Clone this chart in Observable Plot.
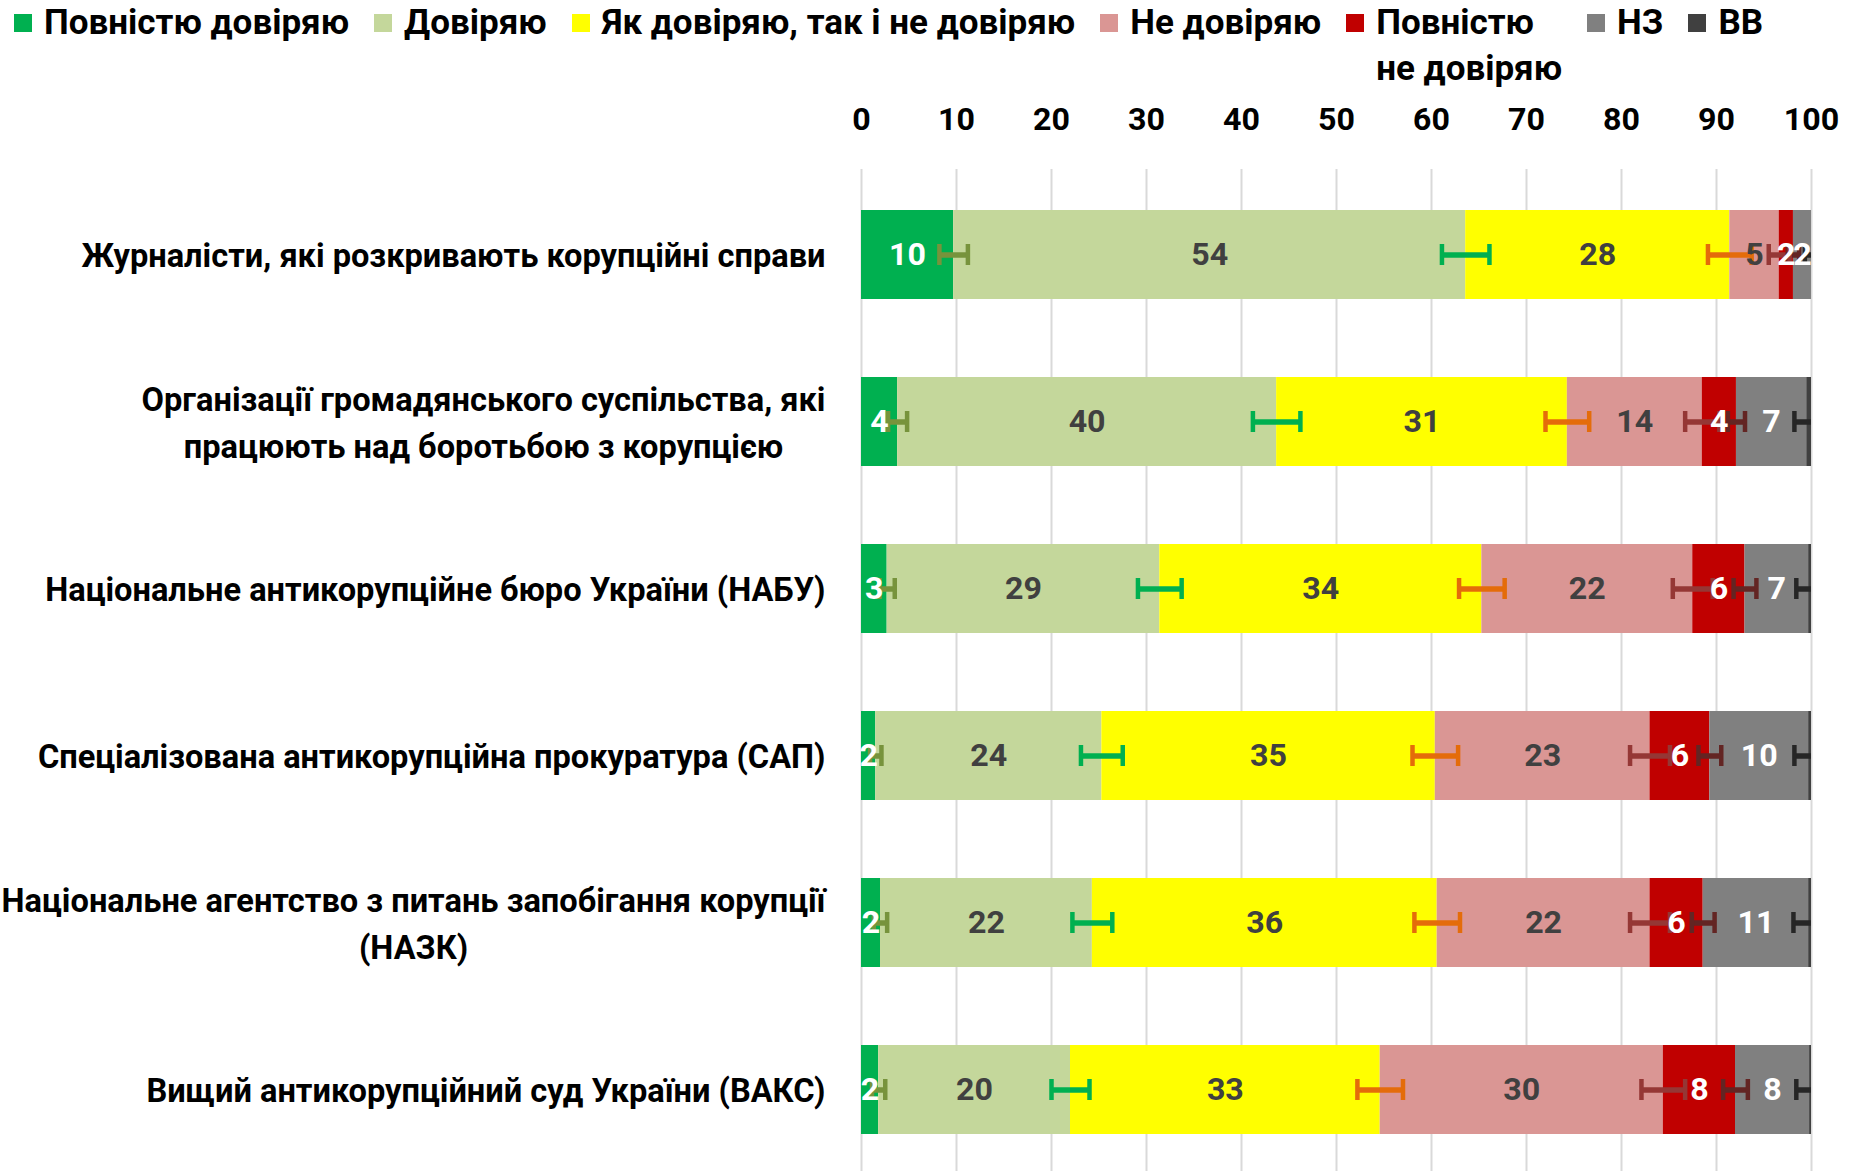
<!DOCTYPE html>
<html>
<head>
<meta charset="utf-8">
<script src="https://cdn.jsdelivr.net/npm/d3@7"></script>
<script src="https://cdn.jsdelivr.net/npm/@observablehq/plot@0.6"></script>
<style>
  html, body { margin: 0; padding: 0; background: #fff; overflow: hidden; width: 1850px; height: 1171px; }
  #wrap { position: relative; width: 1850px; height: 1171px; }
  #legend { position: absolute; left: 14px; top: 0; display: flex; align-items: flex-start; font-weight: bold; color: #000; z-index: 2; white-space: nowrap; }
  .item { display: flex; align-items: flex-start; margin-right: 25px; }
  .sw { width: 18px; height: 18px; margin-right: 12px; flex: none; }
  #chart { position: absolute; left: 0; top: 0; }
</style>
</head>
<body>
<div id="wrap">
  <div id="chart"></div>
  <div id="legend"></div>
</div>
<script>
// ---------- data ----------
const categories = [
  "Журналісти, які розкривають корупційні справи",
  "Організації громадянського суспільства, які\nпрацюють над боротьбою з корупцією",
  "Національне антикорупційне бюро України (НАБУ)",
  "Спеціалізована антикорупційна прокуратура (САП)",
  "Національне агентство з питань запобігання корупції\n(НАЗК)",
  "Вищий антикорупційний суд України (ВАКС)"
];
const seriesNames = ["Повністю довіряю", "Довіряю", "Як довіряю, так і не довіряю", "Не довіряю", "Повністю не довіряю", "НЗ", "ВВ"];
const legendLabels = ["Повністю довіряю", "Довіряю", "Як довіряю, так і не довіряю", "Не довіряю", "Повністю\nне довіряю", "НЗ", "ВВ"];
const seriesColors = ["#00B050", "#C4D79B", "#FFFF00", "#DA9694", "#C00000", "#808080", "#404040"];
const errorColors = ["#77933C", "#00B050", "#E46C0A", "#953735", "#632523", "#262626"];

const fullTrust    = [9.7, 3.8, 2.7, 1.5, 2.0, 1.8];
const trust        = [53.9, 39.9, 28.7, 23.8, 22.3, 20.2];
const neutral      = [27.8, 30.6, 33.9, 35.1, 36.3, 32.6];
const distrust     = [5.2, 14.2, 22.2, 22.6, 22.4, 29.8];
const fullDistrust = [1.5, 3.6, 5.5, 6.3, 5.6, 7.6];
const hardToSay    = [1.9, 7.4, 6.7, 10.4, 11.1, 7.8];
const refused      = [0.0, 0.5, 0.3, 0.3, 0.3, 0.2];

// margins of error (± percentage points) at the end of each segment
const fullTrustErr    = [1.5, 1.0, 0.8, 0.6, 0.7, 0.7];
const trustErr        = [2.5, 2.5, 2.3, 2.2, 2.1, 2.0];
const neutralErr      = [2.3, 2.3, 2.4, 2.4, 2.4, 2.4];
const distrustErr     = [1.1, 1.8, 2.1, 2.1, 2.1, 2.3];
const fullDistrustErr = [0.6, 0.9, 1.2, 1.2, 1.2, 1.3];
const hardToSayErr    = [0.7, 1.3, 1.3, 1.5, 1.6, 1.4];

const xTicks = [0, 10, 20, 30, 40, 50, 60, 70, 80, 90, 100];

// ---------- fonts ----------
const ctx = document.createElement("canvas").getContext("2d");
function measure(font, s) { ctx.font = font; return ctx.measureText(s).width; }
const probe = categories[0];
const candidates = ["Liberation Sans Narrow", "Roboto", "Open Sans", "Noto Sans", "Liberation Sans", "DejaVu Sans"];
let family = "sans-serif";
for (const f of candidates) {
  if (measure(`bold 40px "${f}", monospace`, probe) !== measure("bold 40px monospace", probe)) { family = f; break; }
}
const fontFamily = `"${family}", sans-serif`;
const fit = (s, target) => Math.round(34 * target / measure(`bold 34px ${fontFamily}`, s) * 10) / 10;
const fs = fit(probe, 744);
const fsNum = fit("10", 37);
const fsLegend = fit(legendLabels[0], 305);

// ---------- table ----------
const seriesValues = [fullTrust, trust, neutral, distrust, fullDistrust, hardToSay, refused];
const seriesErrors = [fullTrustErr, trustErr, neutralErr, distrustErr, fullDistrustErr, hardToSayErr];
const labelKeys = ["lab-light", "lab-dark", "lab-dark", "lab-dark", "lab-light", "lab-light", "lab-light"];
const errKeys = errorColors.map((c, j) => "err" + j);

const data = [];
const errData = [];
categories.forEach((c, i) => {
  let cum = 0;
  seriesValues.forEach((arr, j) => {
    const v = arr[i];
    data.push({category: c, series: seriesNames[j], value: v, label: String(Math.round(v)), labKey: labelKeys[j]});
    cum += v;
    if (j < seriesErrors.length) {
      const e = seriesErrors[j][i];
      errData.push({category: c, key: errKeys[j], lo: cum - e, hi: cum + e});
    }
  });
});

const colorDomain = [...seriesNames, ...errKeys, "lab-light", "lab-dark"];
const colorRange = [...seriesColors, ...errorColors, "#FFFFFF", "#404040"];

const chart = Plot.plot({
  width: 1850,
  height: 1175,
  marginTop: 169,
  marginLeft: 861,
  marginRight: 39,
  marginBottom: 0,
  x: {domain: [0, 100], axis: null},
  y: {domain: categories, paddingInner: 0.47, paddingOuter: 0.245, axis: null},
  color: {domain: colorDomain, range: colorRange},
  style: {fontFamily, fontSize: `${fs}px`, fontWeight: "bold", color: "#000", background: "transparent", overflow: "visible"},
  marks: [
    Plot.gridX(xTicks, {stroke: "#D9D9D9", strokeOpacity: 1, strokeWidth: 2}),
    Plot.barX(data, {x: "value", y: "category", fill: "series", order: seriesNames}),
    Plot.ruleY(errData, {y: "category", x1: "lo", x2: "hi", stroke: "key", strokeWidth: 5.5, clip: true}),
    Plot.tickX(errData, {x: "lo", y: "category", stroke: "key", strokeWidth: 4.5, insetTop: 34, insetBottom: 34, clip: true}),
    Plot.tickX(errData, {x: "hi", y: "category", stroke: "key", strokeWidth: 4.5, insetTop: 34, insetBottom: 34, clip: true}),
    Plot.text(data.filter(d => d.value >= 1), Plot.stackX({
      x: "value", y: "category", z: "series", order: seriesNames,
      text: "label", fill: "labKey", fontSize: fsNum, fontWeight: "bold"
    })),
    Plot.axisX(xTicks, {anchor: "top", tickSize: 0, tickPadding: 40, fontSize: fsNum, fontWeight: "bold", fill: "#000", label: null}),
    Plot.axisY({tickSize: 0, tickPadding: 36, dy: -3, fontSize: fs, fontWeight: "bold", fill: "#000", lineHeight: 1.45, label: null})
  ]
});
document.getElementById("chart").appendChild(chart);

// center multi-line category labels within their block (right-aligned block)
chart.querySelectorAll('g[aria-label="y-axis tick label"] text').forEach(t => {
  const spans = t.querySelectorAll("tspan");
  if (spans.length < 2) return;
  const widths = Array.from(spans, s => s.getComputedTextLength());
  const maxW = Math.max(...widths);
  spans.forEach((s, k) => s.setAttribute("dx", -(maxW - widths[k]) / 2));
});

// ---------- legend ----------
const legend = document.getElementById("legend");
legend.style.fontFamily = fontFamily;
legend.style.fontSize = fsLegend + "px";
legend.style.lineHeight = "46px";
seriesNames.forEach((name, j) => {
  const item = document.createElement("div");
  item.className = "item";
  const sw = document.createElement("div");
  sw.className = "sw";
  sw.style.background = seriesColors[j];
  sw.style.marginTop = "14px";
  const tx = document.createElement("div");
  tx.innerHTML = legendLabels[j].split("\n").join("<br>");
  item.appendChild(sw);
  item.appendChild(tx);
  legend.appendChild(item);
});
</script>
</body>
</html>
